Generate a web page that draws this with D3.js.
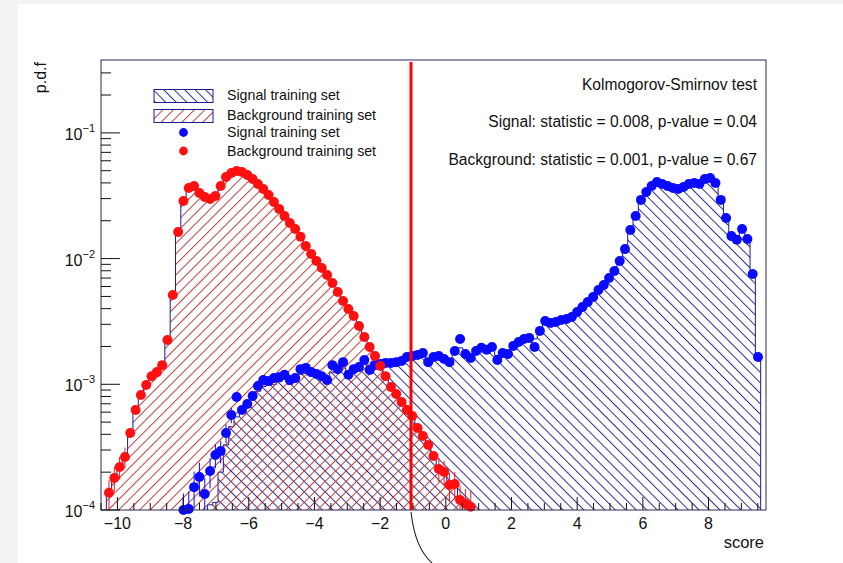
<!DOCTYPE html>
<html>
<head>
<meta charset="utf-8">
<script src="https://cdn.jsdelivr.net/npm/d3@7"></script>
<style>
  html, body { margin: 0; padding: 0; background: #ffffff; }
  svg { display: block; font-family: "Liberation Sans", Arial, Helvetica, sans-serif; }
</style>
</head>
<body>
<svg id="chart" width="843" height="563"></svg>
<script>
// ---- axis definition -------------------------------------------------------
const xMin = -10.5, xMax = 9.75, nBins = 125;
const yMin = 1e-4, yMax = 0.38;
const xTickValues = [-10, -8, -6, -4, -2, 0, 2, 4, 6, 8];
const yTickExponents = [-4, -3, -2, -1];
const cutValue = -1.06;

// ---- histogram contents (p.d.f per bin, starting at the given bin index) ---
const bkgFirstBin = 1;
const bkgHist = [
  1.45e-4, 1.75e-4, 2.3e-4, 2.6e-4, 4.0e-4, 6.1e-4, 8.3e-4, 9.7e-4, 1.15e-3, 1.27e-3,
  1.40e-3, 2.3e-3, 5.0e-3, 1.6e-2, 2.85e-2, 3.6e-2, 3.8e-2, 3.35e-2, 3.1e-2, 2.95e-2,
  3.2e-2, 3.75e-2, 4.45e-2, 4.8e-2, 5.0e-2, 4.9e-2, 4.6e-2, 4.3e-2, 3.95e-2, 3.55e-2,
  3.2e-2, 2.85e-2, 2.5e-2, 2.15e-2, 1.93e-2, 1.7e-2, 1.5e-2, 1.25e-2, 1.1e-2, 9.5e-3,
  8.5e-3, 7.3e-3, 6.4e-3, 5.5e-3, 4.55e-3, 4.0e-3, 3.45e-3, 2.95e-3, 2.35e-3, 2.0e-3,
  1.65e-3, 1.42e-3, 1.15e-3, 9.6e-4, 8.2e-4, 7.3e-4, 6.1e-4, 5.7e-4, 4.4e-4, 3.95e-4,
  3.2e-4, 2.75e-4, 2.1e-4, 2.05e-4, 1.5e-4, 1.65e-4, 1.15e-4, 1.2e-4, 1.08e-4
];
const bkgPoints = [
  1.37e-4, 1.80e-4, 2.20e-4, 2.64e-4, 4.10e-4, 6.25e-4, 8.22e-4, 9.87e-4, 1.16e-3, 1.25e-3,
  1.42e-3, 2.25e-3, 5.13e-3, 1.63e-2, 2.87e-2, 3.64e-2, 3.78e-2, 3.33e-2, 3.09e-2, 2.98e-2,
  3.15e-2, 3.78e-2, 4.46e-2, 4.80e-2, 4.98e-2, 4.89e-2, 4.63e-2, 4.30e-2, 3.92e-2, 3.58e-2,
  3.21e-2, 2.82e-2, 2.48e-2, 2.18e-2, 1.92e-2, 1.72e-2, 1.49e-2, 1.26e-2, 1.09e-2, 9.57e-3,
  8.42e-3, 7.41e-3, 6.39e-3, 5.42e-3, 4.60e-3, 3.97e-3, 3.49e-3, 2.91e-3, 2.38e-3, 1.98e-3,
  1.68e-3, 1.40e-3, 1.16e-3, 9.52e-4, 8.37e-4, 7.23e-4, 6.25e-4, 5.59e-4, 4.49e-4, 3.88e-4,
  3.29e-4, 2.69e-4, 2.12e-4, 2.01e-4, 1.58e-4, 1.61e-4, 1.20e-4, 1.12e-4, 1.06e-4
];
const bkgErrBins = [1, 2, 3, 4, 63, 64, 65, 66, 67, 68, 69];
const bkgErrors  = [3.5e-5, 4e-5, 4.5e-5, 5e-5, 4.5e-5, 4.5e-5, 4e-5, 4e-5, 3.5e-5, 3.5e-5, 3.5e-5];

const sigHistFirstBin = 20;
const sigHist = [
  1.1e-4, 1.15e-4, 2.0e-4, 3.3e-4, 4.6e-4, 5.5e-4, 6.2e-4, 7.0e-4, 7.6e-4, 8.8e-4,
  9.6e-4, 9.8e-4, 1.0e-3, 1.05e-3, 1.1e-3, 1.0e-3, 1.12e-3, 1.2e-3, 1.22e-3, 1.2e-3,
  1.15e-3, 1.1e-3, 1.05e-3, 1.25e-3, 1.3e-3, 1.35e-3, 1.25e-3, 1.3e-3, 1.35e-3, 1.45e-3,
  1.35e-3, 1.4e-3, 1.45e-3, 1.45e-3, 1.5e-3, 1.52e-3, 1.55e-3, 1.6e-3, 1.65e-3, 1.68e-3,
  1.7e-3, 1.6e-3, 1.65e-3, 1.68e-3, 1.62e-3, 1.55e-3, 1.8e-3, 1.95e-3, 1.8e-3, 1.7e-3,
  1.8e-3, 1.9e-3, 1.85e-3, 1.95e-3, 1.7e-3, 1.75e-3, 1.8e-3, 2.0e-3, 2.1e-3, 2.25e-3,
  2.4e-3, 2.3e-3, 2.6e-3, 3.1e-3, 3.05e-3, 3.1e-3, 3.2e-3, 3.3e-3, 3.45e-3, 3.7e-3,
  4.1e-3, 4.5e-3, 5.0e-3, 5.6e-3, 6.2e-3, 7.0e-3, 8.0e-3, 9.5e-3, 1.2e-2, 1.65e-2,
  2.2e-2, 2.9e-2, 3.4e-2, 3.75e-2, 4.05e-2, 3.95e-2, 3.8e-2, 3.65e-2, 3.6e-2, 3.7e-2,
  3.9e-2, 4.0e-2, 3.95e-2, 4.25e-2, 4.35e-2, 4.0e-2, 2.95e-2, 2.1e-2, 1.55e-2, 1.4e-2,
  1.65e-2, 1.45e-2, 7.6e-3, 1.7e-3
];
const sigPointsFirstBin = 15;
const sigPoints = [
  1.00e-4, 1.02e-4, 1.52e-4, 1.83e-4, 1.34e-4, 2.04e-4, 2.74e-4, 2.95e-4, 4.10e-4, 5.70e-4,
  7.93e-4, 6.25e-4, 6.97e-4, 8.07e-4, 9.69e-4, 1.08e-3, 1.06e-3, 1.12e-3, 1.14e-3, 1.19e-3,
  1.08e-3, 1.12e-3, 1.32e-3, 1.35e-3, 1.25e-3, 1.21e-3, 1.16e-3, 1.08e-3, 1.42e-3, 1.32e-3,
  1.50e-3, 1.19e-3, 1.32e-3, 1.37e-3, 1.56e-3, 1.30e-3, 1.42e-3, 1.45e-3, 1.48e-3, 1.48e-3,
  1.50e-3, 1.53e-3, 1.65e-3, 1.68e-3, 1.71e-3, 1.77e-3, 1.50e-3, 1.65e-3, 1.68e-3, 1.59e-3,
  1.50e-3, 1.84e-3, 2.29e-3, 1.74e-3, 1.62e-3, 1.84e-3, 1.95e-3, 1.88e-3, 1.98e-3, 1.56e-3,
  1.77e-3, 1.74e-3, 2.02e-3, 2.17e-3, 2.29e-3, 2.34e-3, 1.98e-3, 2.66e-3, 3.19e-3, 3.07e-3,
  3.13e-3, 3.25e-3, 3.31e-3, 3.43e-3, 3.76e-3, 4.12e-3, 4.52e-3, 4.95e-3, 5.63e-3, 6.17e-3,
  7.01e-3, 7.97e-3, 9.57e-3, 1.19e-2, 1.69e-2, 2.18e-2, 2.93e-2, 3.39e-2, 3.78e-2, 4.07e-2,
  3.92e-2, 3.78e-2, 3.64e-2, 3.58e-2, 3.71e-2, 3.92e-2, 3.99e-2, 3.92e-2, 4.30e-2, 4.38e-2,
  3.99e-2, 2.93e-2, 2.10e-2, 1.51e-2, 1.41e-2, 1.72e-2, 1.43e-2, 7.54e-3, 1.65e-3
];
const sigErrBins = [15, 16, 17, 18, 19, 20, 21, 22, 23, 24];
const sigErrors  = [3.5e-5, 3.8e-5, 5e-5, 5.5e-5, 4.5e-5, 5.5e-5, 6e-5, 6e-5, 7e-5, 8e-5];

// ---- text ------------------------------------------------------------------
const legendLabels = ["Signal training set", "Background training set",
                      "Signal training set", "Background training set"];
const ksLines = ["Kolmogorov-Smirnov test",
                 "Signal: statistic = 0.008, p-value = 0.04",
                 "Background: statistic = 0.001, p-value = 0.67"];
const xTitle = "score", yTitle = "p.d.f";

// ---- colours ---------------------------------------------------------------
const navy = "#1c1c8c";
const sigHatchColor = "#2e2e96";
const bkgHatchColor = "#bb4040";
const sigMarker = "#0a0aff";
const bkgMarker = "#ff1010";

// ---- layout ----------------------------------------------------------------
const frame = { left: 101, top: 60, right: 766, bottom: 510 };
const svg = d3.select("#chart");

const x = d3.scaleLinear().domain([xMin, xMax]).range([frame.left, frame.right]);
const y = d3.scaleLog().domain([yMin, yMax]).range([frame.bottom, frame.top]);
const binWidth = (xMax - xMin) / nBins;
const edge = i => x(xMin + i * binWidth);
const center = i => x(xMin + (i + 0.5) * binWidth);
const yc = v => y(Math.max(v, yMin));

// page edge shading
svg.append("rect").attr("x", 0).attr("y", 0).attr("width", 843).attr("height", 563).attr("fill", "#f3f3f5");
svg.append("rect").attr("x", 18).attr("y", 4).attr("width", 825).attr("height", 559).attr("fill", "#ffffff");

// hatch patterns
const defs = svg.append("defs");
function hatch(id, angle, color) {
  const p = defs.append("pattern").attr("id", id)
    .attr("patternUnits", "userSpaceOnUse")
    .attr("width", 7.4).attr("height", 7.4)
    .attr("patternTransform", `rotate(${angle})`);
  p.append("line").attr("x1", 0.5).attr("y1", -1).attr("x2", 0.5).attr("y2", 9)
    .attr("stroke", color).attr("stroke-width", 1);
}
hatch("hatchSig", -45, sigHatchColor);
hatch("hatchBkg", 45, bkgHatchColor);

defs.append("clipPath").attr("id", "plotClip").append("rect")
  .attr("x", frame.left).attr("y", frame.top)
  .attr("width", frame.right - frame.left).attr("height", frame.bottom - frame.top);

const plot = svg.append("g").attr("clip-path", "url(#plotClip)");

// step outline of a histogram, closed on the lower edge of the frame
function stepPoints(values, first) {
  const pts = [[edge(first), frame.bottom]];
  values.forEach((v, k) => {
    const i = first + k;
    pts.push([edge(i), yc(v)], [edge(i + 1), yc(v)]);
  });
  pts.push([edge(first + values.length), frame.bottom]);
  return pts;
}
const line = d3.line();

function drawHist(values, first, pattern) {
  const pts = stepPoints(values, first);
  plot.append("path").attr("d", line(pts) + "Z").attr("fill", `url(#${pattern})`).attr("stroke", "none");
  plot.append("path").attr("d", line(pts)).attr("fill", "none")
    .attr("stroke", navy).attr("stroke-width", 1);
}
drawHist(sigHist, sigHistFirstBin, "hatchSig");
drawHist(bkgHist, bkgFirstBin, "hatchBkg");

// error bars and markers
function drawErrors(bins, errs, values, first, color) {
  bins.forEach((b, k) => {
    const v = values[b - first];
    svg.append("line")
      .attr("x1", center(b)).attr("x2", center(b))
      .attr("y1", yc(v - errs[k])).attr("y2", yc(v + errs[k]))
      .attr("stroke", color).attr("stroke-width", 1);
  });
}
function drawMarkers(values, first, color) {
  svg.append("g").selectAll("circle")
    .data(values.map((v, k) => ({ i: first + k, v })).filter(d => d.v >= yMin))
    .join("circle")
    .attr("cx", d => center(d.i)).attr("cy", d => y(d.v))
    .attr("r", 5).attr("fill", color);
}
drawErrors(bkgErrBins, bkgErrors, bkgPoints, bkgFirstBin, bkgMarker);
drawErrors(sigErrBins, sigErrors, sigPoints, sigPointsFirstBin, sigMarker);
drawMarkers(sigPoints, sigPointsFirstBin, sigMarker);
drawMarkers(bkgPoints, bkgFirstBin, bkgMarker);

// frame
svg.append("rect").attr("x", frame.left).attr("y", frame.top)
  .attr("width", frame.right - frame.left).attr("height", frame.bottom - frame.top)
  .attr("fill", "none").attr("stroke", "#2a2a55").attr("stroke-width", 1);

// x axis: major ticks every 2, minor every 0.5
const axisColor = "#111";
const xMinor = d3.range(-10.5, xMax + 1e-9, 0.5);
svg.append("g").selectAll("line").data(xMinor).join("line")
  .attr("x1", d => x(d)).attr("x2", d => x(d))
  .attr("y1", frame.bottom).attr("y2", d => frame.bottom - (Number.isInteger(d / 2) ? 13 : 7))
  .attr("stroke", axisColor).attr("stroke-width", 1);
svg.append("g").selectAll("text").data(xTickValues).join("text")
  .attr("x", d => x(d)).attr("y", 529)
  .attr("text-anchor", "middle").attr("font-size", 16).attr("fill", "#111")
  .text(d => d < 0 ? "\u2212" + Math.abs(d) : String(d));

// y axis: decades with minor ticks
const yMinor = [];
for (let e = -4; e <= -1; e++) for (let m = 1; m <= 9; m++) {
  const v = m * Math.pow(10, e);
  if (v >= yMin && v <= yMax) yMinor.push({ v, major: m === 1 });
}
svg.append("g").selectAll("line").data(yMinor).join("line")
  .attr("x1", frame.left).attr("x2", d => frame.left + (d.major ? 19 : 10))
  .attr("y1", d => y(d.v)).attr("y2", d => y(d.v))
  .attr("stroke", axisColor).attr("stroke-width", 1);
const yLab = svg.append("g").selectAll("text").data(yTickExponents).join("text")
  .attr("x", 95).attr("y", e => y(Math.pow(10, e)) + 7)
  .attr("text-anchor", "end").attr("fill", "#111");
yLab.append("tspan").attr("font-size", 16).text("10");
yLab.append("tspan").attr("font-size", 11).attr("dy", -8).text(e => "\u2212" + Math.abs(e));

// axis titles
svg.append("text").attr("x", 764).attr("y", 548).attr("text-anchor", "end")
  .attr("font-size", 16.5).attr("fill", "#111").text(xTitle);
svg.append("text").attr("transform", `translate(46,${frame.top + 2}) rotate(-90)`)
  .attr("text-anchor", "end").attr("font-size", 16).attr("fill", "#111").text(yTitle);

// cut position
svg.append("line").attr("x1", x(cutValue)).attr("x2", x(cutValue))
  .attr("y1", frame.top + 2).attr("y2", frame.bottom)
  .attr("stroke", "#ff0000").attr("stroke-width", 3);
const cx0 = x(cutValue);
svg.append("path")
  .attr("d", `M${cx0},${frame.bottom + 2} Q${cx0 + 4},${frame.bottom + 38} ${cx0 + 21},563`)
  .attr("fill", "none").attr("stroke", "#222").attr("stroke-width", 1.1);

// legend
const legend = svg.append("g");
const boxFills = ["hatchSig", "hatchBkg"];
boxFills.forEach((f, k) => {
  legend.append("rect").attr("x", 154).attr("y", 89.5 + k * 20).attr("width", 59).attr("height", 13)
    .attr("fill", `url(#${f})`).attr("stroke", navy).attr("stroke-width", 1);
});
[sigMarker, bkgMarker].forEach((c, k) => {
  legend.append("circle").attr("cx", 183.5).attr("cy", 132.5 + k * 18.5).attr("r", 4.4).attr("fill", c);
});
const legendY = [100, 119.5, 137, 155.5];
legend.selectAll("text").data(legendLabels).join("text")
  .attr("x", 227).attr("y", (d, k) => legendY[k])
  .attr("font-size", 14.2).attr("fill", "#111").text(d => d);

// Kolmogorov-Smirnov summary
const ksY = [89.5, 127, 164.5];
svg.append("g").selectAll("text").data(ksLines).join("text")
  .attr("x", 757).attr("y", (d, k) => ksY[k])
  .attr("text-anchor", "end").attr("font-size", 15.6).attr("fill", "#111").text(d => d);
</script>
</body>
</html>
